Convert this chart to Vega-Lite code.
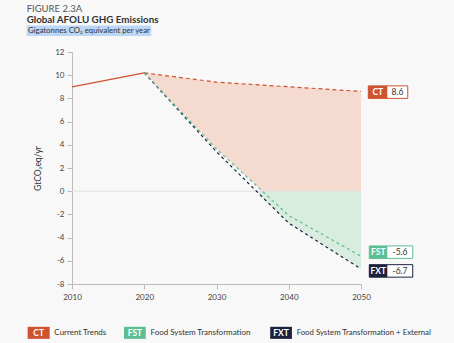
{
  "$schema": "https://vega.github.io/schema/vega-lite/v6.json",
  "width": 289,
  "height": 232,
  "autosize": {"type": "none"},
  "padding": {"left": 72, "top": 52, "right": 93, "bottom": 59},
  "background": "#f8f8f8",
  "config": {
    "font": "Lato",
    "view": {"stroke": null},
    "locale": {"number": {"decimal": ".", "thousands": ",", "grouping": [3], "currency": ["$", ""], "minus": "-"}},
    "axisY": {"tickCount": 11, "grid": false, "tickSize": 5, "labelPadding": 3, "labelFontSize": 8, "labelColor": "#444444", "domainColor": "#bbbbbb", "tickColor": "#bbbbbb", "labelOverlap": false, "titleFontSize": 8.5, "titleFontWeight": "normal", "titleColor": "#333333", "titlePadding": 12},
    "axisX": {"tickCount": 5, "grid": false, "tickSize": 5, "labelPadding": 4, "labelFontSize": 8, "labelColor": "#444444", "domainColor": "#bbbbbb", "tickColor": "#bbbbbb", "labelFlush": false, "labelOverlap": false}
  },
  "title": {
    "text": "FIGURE 2.3A",
    "subtitle": "Global AFOLU GHG Emissions",
    "anchor": "start",
    "frame": "bounds",
    "fontSize": 9.5,
    "fontWeight": "normal",
    "color": "#555555",
    "subtitleFontSize": 9.8,
    "subtitleFontWeight": "bold",
    "subtitleColor": "#333333",
    "subtitlePadding": 1,
    "offset": 1
  },
  "datasets": {
    "series": [
      {"series": "CT", "year": 2010, "value": 9.0},
      {"series": "CT", "year": 2020, "value": 10.2},
      {"series": "CT", "year": 2030, "value": 9.4},
      {"series": "CT", "year": 2040, "value": 9.0},
      {"series": "CT", "year": 2050, "value": 8.6},
      {"series": "FST", "year": 2020, "value": 10.2},
      {"series": "FST", "year": 2030, "value": 3.65},
      {"series": "FST", "year": 2040, "value": -2.1},
      {"series": "FST", "year": 2050, "value": -5.6},
      {"series": "FXT", "year": 2020, "value": 10.2},
      {"series": "FXT", "year": 2030, "value": 3.4},
      {"series": "FXT", "year": 2040, "value": -2.75},
      {"series": "FXT", "year": 2050, "value": -6.7}
    ],
    "areas": [
      {"band": "CT", "year": 2020, "hi": 10.2, "lo": 10.2},
      {"band": "CT", "year": 2030, "hi": 9.4, "lo": 3.65},
      {"band": "CT", "year": 2036.4, "hi": 9.14, "lo": 0},
      {"band": "CT", "year": 2040, "hi": 9.0, "lo": 0},
      {"band": "CT", "year": 2050, "hi": 8.6, "lo": 0},
      {"band": "FST", "year": 2035.5, "hi": 0, "lo": 0},
      {"band": "FST", "year": 2040, "hi": 0, "lo": -2.75},
      {"band": "FST", "year": 2050, "hi": 0, "lo": -6.7}
    ],
    "labels": [
      {"code": "CT", "value": 8.6},
      {"code": "FST", "value": -5.6},
      {"code": "FXT", "value": -6.7}
    ],
    "legend": [
      {"code": "CT", "name": "Current Trends"},
      {"code": "FST", "name": "Food System Transformation"},
      {"code": "FXT", "name": "Food System Transformation + External"}
    ],
    "header": [
      {"text": "Gigatonnes CO₂ equivalent per year"}
    ]
  },
  "layer": [
    {
      "data": {"name": "areas"},
      "transform": [{"filter": "datum.band === 'CT'"}],
      "mark": {"type": "area", "color": "#f5dacf", "opacity": 1},
      "encoding": {
        "x": {
          "field": "year", "type": "quantitative", "title": null,
          "scale": {"domain": [2010, 2050], "nice": false, "zero": false},
          "axis": {"values": [2010, 2020, 2030, 2040, 2050], "format": "d", "tickCount": 5}
        },
        "y": {
          "field": "hi", "type": "quantitative", "title": "GtCO₂eq/yr",
          "scale": {"domain": [-8, 12], "nice": false, "zero": false},
          "axis": {"values": [-8, -6, -4, -2, 0, 2, 4, 6, 8, 10, 12], "tickCount": 11}
        },
        "y2": {"field": "lo"}
      }
    },
    {
      "data": {"name": "areas"},
      "transform": [{"filter": "datum.band === 'FST'"}],
      "mark": {"type": "area", "color": "#d9ece0", "opacity": 1},
      "encoding": {
        "x": {"field": "year", "type": "quantitative", "title": null},
        "y": {"field": "hi", "type": "quantitative", "title": "GtCO₂eq/yr"},
        "y2": {"field": "lo"}
      }
    },
    {
      "data": {"name": "header"},
      "mark": {"type": "rule", "color": "#e2e2e2", "strokeWidth": 1},
      "encoding": {
        "x": {"datum": 2010},
        "x2": {"datum": 2050},
        "y": {"datum": 0}
      }
    },
    {
      "data": {"name": "series"},
      "transform": [{"filter": "datum.series === 'CT' && datum.year <= 2020"}],
      "mark": {"type": "line", "color": "#d0532f", "strokeWidth": 1.2},
      "encoding": {
        "x": {"field": "year", "type": "quantitative", "title": null},
        "y": {"field": "value", "type": "quantitative", "title": "GtCO₂eq/yr"}
      }
    },
    {
      "data": {"name": "series"},
      "transform": [{"filter": "datum.series === 'CT' && datum.year >= 2020"}],
      "mark": {"type": "line", "color": "#d0532f", "strokeWidth": 1.2, "strokeDash": [4, 3]},
      "encoding": {
        "x": {"field": "year", "type": "quantitative", "title": null},
        "y": {"field": "value", "type": "quantitative", "title": "GtCO₂eq/yr"}
      }
    },
    {
      "data": {"name": "series"},
      "transform": [{"filter": "datum.series === 'FXT'"}],
      "mark": {"type": "line", "color": "#1b2240", "strokeWidth": 1.2, "strokeDash": [3, 3]},
      "encoding": {
        "x": {"field": "year", "type": "quantitative", "title": null},
        "y": {"field": "value", "type": "quantitative", "title": "GtCO₂eq/yr"}
      }
    },
    {
      "data": {"name": "series"},
      "transform": [{"filter": "datum.series === 'FST'"}],
      "mark": {"type": "line", "color": "#5cbf93", "strokeWidth": 1.2, "strokeDash": [3, 3]},
      "encoding": {
        "x": {"field": "year", "type": "quantitative", "title": null},
        "y": {"field": "value", "type": "quantitative", "title": "GtCO₂eq/yr"}
      }
    },
    {
      "data": {"name": "labels"},
      "transform": [{"filter": "datum.code === 'CT'"}],
      "layer": [
        {"mark": {"type": "rect", "fill": "white", "stroke": "#d0532f", "strokeWidth": 1, "height": 12.5, "yOffset": 0.7},
         "encoding": {"x": {"datum": 2051.01}, "x2": {"datum": 2056.47}, "y": {"field": "value", "type": "quantitative", "title": "GtCO₂eq/yr"}}},
        {"mark": {"type": "rect", "fill": "#d0532f", "height": 12.5, "yOffset": 0.7},
         "encoding": {"x": {"datum": 2051.01}, "x2": {"datum": 2053.64}, "y": {"field": "value", "type": "quantitative", "title": "GtCO₂eq/yr"}}},
        {"mark": {"type": "text", "color": "white", "fontWeight": "bold", "fontSize": 8.5, "yOffset": 0.7},
         "encoding": {"x": {"datum": 2052.33}, "y": {"field": "value", "type": "quantitative", "title": "GtCO₂eq/yr"}, "text": {"field": "code"}}},
        {"mark": {"type": "text", "color": "#333333", "fontSize": 8.5, "yOffset": 0.7},
         "encoding": {"x": {"datum": 2055.06}, "y": {"field": "value", "type": "quantitative", "title": "GtCO₂eq/yr"}, "text": {"field": "value", "type": "quantitative", "format": ".1f"}}}
      ]
    },
    {
      "data": {"name": "labels"},
      "transform": [{"filter": "datum.code === 'FST'"}],
      "layer": [
        {"mark": {"type": "rect", "fill": "white", "stroke": "#5cbf93", "strokeWidth": 1, "height": 12.5, "yOffset": -4},
         "encoding": {"x": {"datum": 2051.15}, "x2": {"datum": 2057.16}, "y": {"field": "value", "type": "quantitative", "title": "GtCO₂eq/yr"}}},
        {"mark": {"type": "rect", "fill": "#5cbf93", "height": 12.5, "yOffset": -4},
         "encoding": {"x": {"datum": 2051.15}, "x2": {"datum": 2053.64}, "y": {"field": "value", "type": "quantitative", "title": "GtCO₂eq/yr"}}},
        {"mark": {"type": "text", "color": "white", "fontWeight": "bold", "fontSize": 8.5, "yOffset": -4},
         "encoding": {"x": {"datum": 2052.4}, "y": {"field": "value", "type": "quantitative", "title": "GtCO₂eq/yr"}, "text": {"field": "code"}}},
        {"mark": {"type": "text", "color": "#333333", "fontSize": 8.5, "yOffset": -4},
         "encoding": {"x": {"datum": 2055.4}, "y": {"field": "value", "type": "quantitative", "title": "GtCO₂eq/yr"}, "text": {"field": "value", "type": "quantitative", "format": ".1f"}}}
      ]
    },
    {
      "data": {"name": "labels"},
      "transform": [{"filter": "datum.code === 'FXT'"}],
      "layer": [
        {"mark": {"type": "rect", "fill": "white", "stroke": "#1b2240", "strokeWidth": 1, "height": 12.5, "yOffset": 2},
         "encoding": {"x": {"datum": 2051.15}, "x2": {"datum": 2057.16}, "y": {"field": "value", "type": "quantitative", "title": "GtCO₂eq/yr"}}},
        {"mark": {"type": "rect", "fill": "#1b2240", "height": 12.5, "yOffset": 2},
         "encoding": {"x": {"datum": 2051.15}, "x2": {"datum": 2053.64}, "y": {"field": "value", "type": "quantitative", "title": "GtCO₂eq/yr"}}},
        {"mark": {"type": "text", "color": "white", "fontWeight": "bold", "fontSize": 8.5, "yOffset": 2},
         "encoding": {"x": {"datum": 2052.4}, "y": {"field": "value", "type": "quantitative", "title": "GtCO₂eq/yr"}, "text": {"field": "code"}}},
        {"mark": {"type": "text", "color": "#333333", "fontSize": 8.5, "yOffset": 2},
         "encoding": {"x": {"datum": 2055.4}, "y": {"field": "value", "type": "quantitative", "title": "GtCO₂eq/yr"}, "text": {"field": "value", "type": "quantitative", "format": ".1f"}}}
      ]
    },
    {
      "data": {"name": "legend"},
      "transform": [{"filter": "datum.code === 'CT'"}],
      "layer": [
        {"mark": {"type": "rect", "fill": "#d0532f"},
         "encoding": {"x": {"datum": 2003.86}, "x2": {"datum": 2006.91}, "y": {"datum": -11.69}, "y2": {"datum": -12.73}}},
        {"mark": {"type": "text", "color": "white", "fontWeight": "bold", "fontSize": 8.5},
         "encoding": {"x": {"datum": 2005.39}, "y": {"datum": -12.21}, "text": {"field": "code"}}},
        {"mark": {"type": "text", "color": "#333333", "fontSize": 8, "align": "left"},
         "encoding": {"x": {"datum": 2007.56}, "y": {"datum": -12.21}, "text": {"field": "name"}}}
      ]
    },
    {
      "data": {"name": "legend"},
      "transform": [{"filter": "datum.code === 'FST'"}],
      "layer": [
        {"mark": {"type": "rect", "fill": "#5cbf93"},
         "encoding": {"x": {"datum": 2017.2}, "x2": {"datum": 2020.21}, "y": {"datum": -11.69}, "y2": {"datum": -12.73}}},
        {"mark": {"type": "text", "color": "white", "fontWeight": "bold", "fontSize": 8.5},
         "encoding": {"x": {"datum": 2018.71}, "y": {"datum": -12.21}, "text": {"field": "code"}}},
        {"mark": {"type": "text", "color": "#333333", "fontSize": 8, "align": "left"},
         "encoding": {"x": {"datum": 2020.86}, "y": {"datum": -12.21}, "text": {"field": "name"}}}
      ]
    },
    {
      "data": {"name": "legend"},
      "transform": [{"filter": "datum.code === 'FXT'"}],
      "layer": [
        {"mark": {"type": "rect", "fill": "#1b2240"},
         "encoding": {"x": {"datum": 2037.43}, "x2": {"datum": 2040.44}, "y": {"datum": -11.69}, "y2": {"datum": -12.73}}},
        {"mark": {"type": "text", "color": "white", "fontWeight": "bold", "fontSize": 8.5},
         "encoding": {"x": {"datum": 2038.94}, "y": {"datum": -12.21}, "text": {"field": "code"}}},
        {"mark": {"type": "text", "color": "#333333", "fontSize": 7.8, "align": "left"},
         "encoding": {"x": {"datum": 2041.09}, "y": {"datum": -12.21}, "text": {"field": "name"}}}
      ]
    },
    {
      "data": {"name": "header"},
      "layer": [
        {"mark": {"type": "rect", "fill": "#bcd6f5"},
         "encoding": {"x": {"datum": 2003.72}, "x2": {"datum": 2020.97}, "y": {"datum": 14.29}, "y2": {"datum": 13.38}}},
        {"mark": {"type": "text", "color": "#333333", "fontSize": 7.8, "align": "left"},
         "encoding": {"x": {"datum": 2003.9}, "y": {"datum": 13.83}, "text": {"field": "text"}}}
      ]
    }
  ]
}
